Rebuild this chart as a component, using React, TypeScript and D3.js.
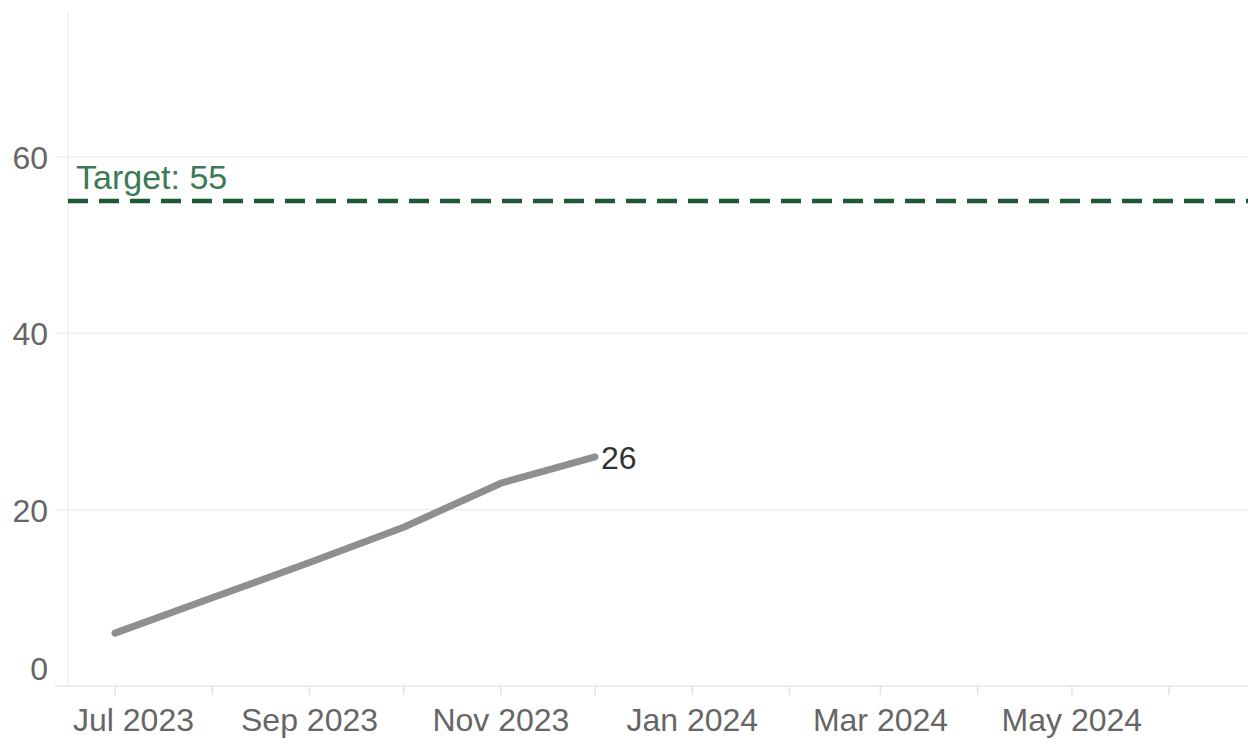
import React, { useEffect, useRef } from 'react'
import * as d3 from 'd3'

// monthly values
const months = ['2023-07-01', '2023-08-01', '2023-09-01', '2023-10-01', '2023-11-01', '2023-12-01']
const values = [6, 10, 14, 18, 23, 26]
const yTicks = [0, 20, 40, 60]
const target = 55
const targetLabel = 'Target: 55'

const W = 1248
const H = 749

export default function App() {
  const ref = useRef<SVGSVGElement>(null)

  useEffect(() => {
    const svg = d3.select(ref.current)
    svg.selectAll('*').remove()

    const parse = d3.timeParse('%Y-%m-%d')
    const dates = months.map(m => parse(m)!)
    const data = dates.map((d, i) => ({ date: d, value: values[i] }))

    const plotLeft = 68
    const plotTop = 10
    const baseY = 686

    const x = d3.scaleTime()
      .domain([dates[0], dates[dates.length - 1]])
      .range([115, 595])
    const y = d3.scaleLinear()
      .domain([0, 60])
      .range([baseY, 157])

    const font = 'Arial, "Liberation Sans", sans-serif'

    // gridlines
    svg.append('g')
      .selectAll('line')
      .data(yTicks.filter(t => t > 0))
      .enter()
      .append('line')
      .attr('x1', 55)
      .attr('x2', W)
      .attr('y1', d => y(d))
      .attr('y2', d => y(d))
      .attr('stroke', '#efefef')
      .attr('stroke-width', 1.5)

    // y axis line
    svg.append('line')
      .attr('x1', plotLeft).attr('x2', plotLeft)
      .attr('y1', plotTop).attr('y2', baseY)
      .attr('stroke', '#f0f0f0')
      .attr('stroke-width', 1.5)

    // x axis line
    svg.append('line')
      .attr('x1', 55).attr('x2', W)
      .attr('y1', baseY).attr('y2', baseY)
      .attr('stroke', '#e6e6e6')
      .attr('stroke-width', 1.5)

    // y labels
    svg.append('g')
      .selectAll('text')
      .data(yTicks)
      .enter()
      .append('text')
      .attr('x', 48)
      .attr('y', d => y(d) + (d === 0 ? -6 : 12))
      .attr('text-anchor', 'end')
      .attr('font-family', font)
      .attr('font-size', 32)
      .attr('fill', '#666')
      .text(d => d)

    // x ticks (monthly)
    const end = x.invert(W)
    const monthTicks = d3.timeMonth.range(dates[0], end)
    svg.append('g')
      .selectAll('line')
      .data(monthTicks)
      .enter()
      .append('line')
      .attr('x1', d => x(d)).attr('x2', d => x(d))
      .attr('y1', baseY).attr('y2', baseY + 9)
      .attr('stroke', '#e2e2e2')
      .attr('stroke-width', 1.5)

    const fmt = d3.timeFormat('%b %Y')
    const labelTicks = monthTicks.filter((d, i) => i % 2 === 0 && x(d) < 1150)
    svg.append('g')
      .selectAll('text')
      .data(labelTicks)
      .enter()
      .append('text')
      .attr('y', 731)
      .attr('font-family', font)
      .attr('font-size', 32)
      .attr('fill', '#666')
      .text(d => fmt(d))
      .each(function (d) {
        const el = this as SVGTextElement
        const w = el.getComputedTextLength()
        el.setAttribute('x', String(Math.max(x(d) - w / 2, 73)))
      })

    // target line
    svg.append('line')
      .attr('x1', plotLeft).attr('x2', W)
      .attr('y1', y(target)).attr('y2', y(target))
      .attr('stroke', '#1d5a33')
      .attr('stroke-width', 4.5)
      .attr('stroke-dasharray', '20 11')

    svg.append('text')
      .attr('x', 76)
      .attr('y', y(target) - 12)
      .attr('font-family', font)
      .attr('font-size', 34)
      .attr('fill', '#3b7a55')
      .text(targetLabel)

    // series line
    const line = d3.line<{ date: Date; value: number }>()
      .x(d => x(d.date))
      .y(d => y(d.value))

    svg.append('path')
      .datum(data)
      .attr('d', line)
      .attr('fill', 'none')
      .attr('stroke', '#8f8f8f')
      .attr('stroke-width', 7)
      .attr('stroke-linecap', 'round')
      .attr('stroke-linejoin', 'round')

    const last = data[data.length - 1]
    svg.append('text')
      .attr('x', x(last.date) + 6)
      .attr('y', y(last.value) + 12)
      .attr('font-family', font)
      .attr('font-size', 32)
      .attr('fill', '#333')
      .text(last.value)
  }, [])

  return (
    <svg
      ref={ref}
      width={W}
      height={H}
      style={{ position: 'absolute', left: 0, top: 0, display: 'block', background: '#fff' }}
    />
  )
}
